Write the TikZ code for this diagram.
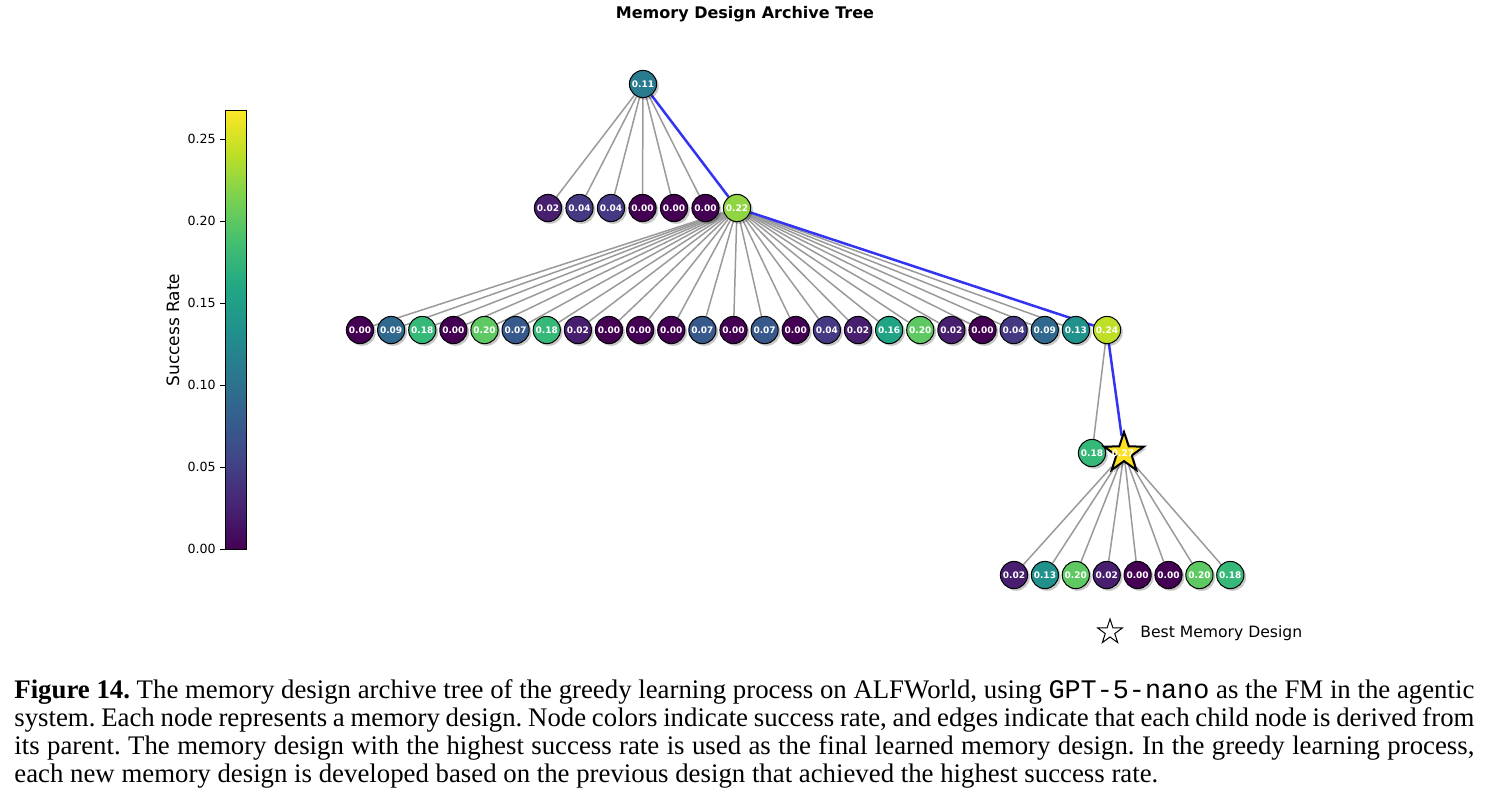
\documentclass[tikz,border=0pt]{standalone}
\usepackage{fontspec}
\setmainfont{Liberation Serif}
\setmonofont{Liberation Mono}
\newfontfamily\djv{DejaVu Sans}
\usetikzlibrary{shapes.geometric,shadows,backgrounds}
% node colours (viridis, vmax ~ 0.268)
\definecolor{c00}{HTML}{440154}
\definecolor{c02}{HTML}{481E6F}
\definecolor{c04}{HTML}{443982}
\definecolor{c07}{HTML}{38598C}
\definecolor{c09}{HTML}{31688E}
\definecolor{c11}{HTML}{287C8E}
\definecolor{c13}{HTML}{21918C}
\definecolor{c16}{HTML}{21A486}
\definecolor{c18}{HTML}{36B878}
\definecolor{c20}{HTML}{5EC962}
\definecolor{c22}{HTML}{90D643}
\definecolor{c24}{HTML}{BDDF26}
\definecolor{c27}{HTML}{FDE725}
\definecolor{starfill}{HTML}{FBE024}
\definecolor{edgegray}{HTML}{9A9A9A}
\definecolor{edgeblue}{HTML}{3333F2}
% viridis stops for the colour bar
\definecolor{w00}{HTML}{440154}
\definecolor{w01}{HTML}{482475}
\definecolor{w02}{HTML}{414487}
\definecolor{w03}{HTML}{355F8D}
\definecolor{w04}{HTML}{2A788E}
\definecolor{w05}{HTML}{21918C}
\definecolor{w06}{HTML}{22A884}
\definecolor{w07}{HTML}{44BF70}
\definecolor{w08}{HTML}{7AD151}
\definecolor{w09}{HTML}{BDDF26}
\definecolor{w10}{HTML}{FDE725}
\pgfdeclareverticalshading{viridisbar}{100bp}{color(0bp)=(w00); color(25bp)=(w00); color(30bp)=(w01); color(35bp)=(w02); color(40bp)=(w03); color(45bp)=(w04); color(50bp)=(w05); color(55bp)=(w06); color(60bp)=(w07); color(65bp)=(w08); color(70bp)=(w09); color(75bp)=(w10); color(100bp)=(w10)}
\tikzset{
  nd/.style={circle, draw=black, line width=0.5pt, minimum size=13.6pt, inner sep=0pt,
    text=white, font=\djv\bfseries\fontsize{4.5}{5.5}\selectfont,
    drop shadow={shadow xshift=1.1pt, shadow yshift=-1.1pt, fill=black, opacity=0.22}},
  bestnode/.style={star, star points=5, star point ratio=2.6, draw=black, line width=1pt,
    fill=starfill, minimum size=21pt, inner sep=0pt,
    drop shadow={shadow xshift=1.1pt, shadow yshift=-1.1pt, fill=black, opacity=0.22}},
  bestlabel/.style={inner sep=0pt, text=white, font=\djv\bfseries\fontsize{4.5}{5.5}\selectfont},
  ge/.style={draw=edgegray, line width=0.75pt},
  be/.style={draw=edgeblue, line width=1.25pt},
  tick/.style={font=\djv\fontsize{6.3}{7.5}\selectfont, anchor=east, inner sep=0pt},
  caption/.style={anchor=base west, inner sep=0pt, font=\fontsize{13.4}{15}\selectfont},
}
\begin{document}
\frenchspacing
\begin{tikzpicture}[x=0.5pt, y=-0.5pt]
\useasboundingbox (0,0) rectangle (1492,810);
% title
\node[font=\djv\bfseries\fontsize{8}{9}\selectfont] (title) at (745,14) {Memory Design Archive Tree};
% colour bar
\shade[shading=viridisbar] (225,110) rectangle (246,549);
\draw[line width=0.4pt] (225,110) rectangle (246,549);
\foreach \k/\l in {0/0.00,1/0.05,2/0.10,3/0.15,4/0.20,5/0.25}{
  \draw[line width=0.4pt] (225,{549-82*\k}) -- (220,{549-82*\k});
  \node[tick] (tk\k) at (216,{549-82*\k}) {\l};
}
\node[rotate=90, font=\djv\fontsize{8.5}{10}\selectfont] (cblabel) at (173,330) {Success Rate};
% tree nodes
\node[nd, fill=c11] (r) at (643,84) {0.11};
\foreach \v [count=\i] in {02,04,04,00,00,00,22}
  \node[nd, fill=c\v] (a\i) at ({548+31.5*(\i-1)},208) {0.\v};
\foreach \v [count=\i] in {00,09,18,00,20,07,18,02,00,00,00,07,00,07,00,04,02,16,20,02,00,04,09,13,24}
  \node[nd, fill=c\v] (b\i) at ({360+31.125*(\i-1)},330) {0.\v};
\node[nd, fill=c18] (c1) at (1092,453) {0.18};
\node[bestnode] (s) at (1124,453) {};
\node[bestlabel] (slabel) at (1123,453) {0.27};
\foreach \v [count=\i] in {02,13,20,02,00,00,20,18}
  \node[nd, fill=c\v] (d\i) at ({1014+30.9*(\i-1)},575) {0.\v};
% edges
\begin{scope}[on background layer]
  \foreach \i in {1,...,6} \draw[ge] (r) -- (a\i);
  \foreach \i in {1,...,24} \draw[ge] (a7) -- (b\i);
  \draw[ge] (b25) -- (c1);
  \foreach \i in {1,...,8} \draw[ge] (s) -- (d\i);
  \draw[be] (r) -- (a7);
  \draw[be] (a7) -- (b25);
  \draw[be] (b25) -- (s);
\end{scope}
% legend
\node[star, star points=5, star point ratio=2.6, draw=black, line width=0.5pt, minimum size=13pt, inner sep=0pt] (legstar) at (1110,632) {};
\node[anchor=west, inner sep=0pt, font=\djv\fontsize{7.8}{9}\selectfont] (legtext) at (1140,633) {Best Memory Design};
% caption
\node[caption] (cap1) at (14,698) {\makebox[730pt][s]{\textbf{Figure 14.} The memory design archive tree of the greedy learning process on ALFWorld, using \texttt{GPT-5-nano} as the FM in the agentic}};
\node[caption] (cap2) at (14,726) {\makebox[730pt][s]{system. Each node represents a memory design. Node colors indicate success rate, and edges indicate that each child node is derived from}};
\node[caption] (cap3) at (14,754) {\makebox[730pt][s]{its parent. The memory design with the highest success rate is used as the final learned memory design. In the greedy learning process,}};
\node[caption] (cap4) at (14,782) {each new memory design is developed based on the previous design that achieved the highest success rate.};
\end{tikzpicture}
\end{document}
